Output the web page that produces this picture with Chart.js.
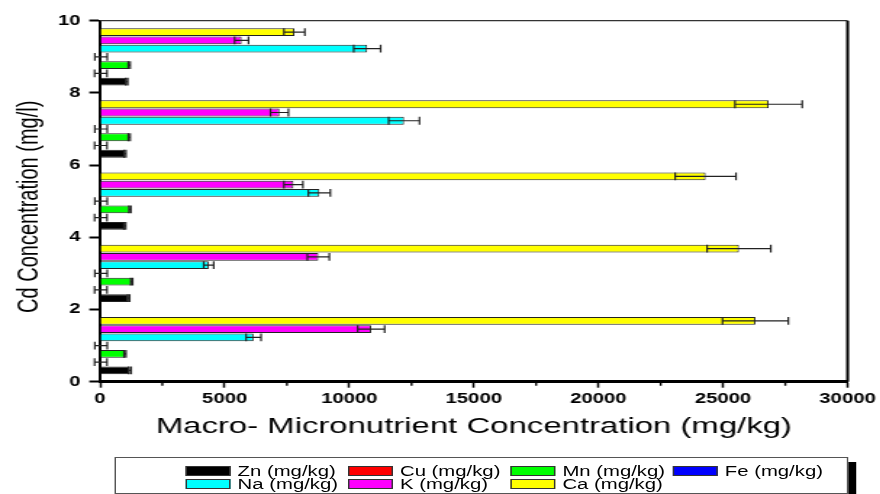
<!DOCTYPE html>
<html>
<head>
<meta charset="utf-8">
<script src="https://cdn.jsdelivr.net/npm/chart.js@4.4.1/dist/chart.umd.min.js"></script>
<style>
  html, body { margin: 0; padding: 0; overflow: hidden; background: #fff; }
  /* the original figure is stretched sideways, so the whole drawing is too */
  #wrap { position: relative; width: 607px; height: 494px; transform: scaleX(1.45); transform-origin: 0 0; }
  #legend {
    position: absolute; left: 78.6px; top: 457px; width: 506px; height: 37px;
    box-sizing: border-box; border: 1px solid #555; background: #fff;
    box-shadow: 5.5px 5px 0 #000;
    padding: 7px 0 0 48px;
    display: grid; grid-template-columns: repeat(4, 112px); grid-auto-rows: 12.7px;
    font-family: "Liberation Sans", Arial, sans-serif; font-size: 14px; color: #000;
  }
  .item { display: flex; align-items: center; white-space: nowrap; line-height: 12.7px; }
  .swatch { width: 31.7px; height: 10px; box-sizing: border-box; border: 1px solid #333; margin-right: 4.6px; }
</style>
</head>
<body>
<div id="wrap">
  <canvas id="myChart"></canvas>
  <div id="legend"></div>
</div>
<script>
// Cd levels where each group of bars sits, and axis ticks
const cdLevels = [1, 3, 5, 7, 9];
const yTicks = [0, 2, 4, 6, 8, 10];
const xTicks = [0, 5000, 10000, 15000, 20000, 25000, 30000];
const xMinorTicks = [2500, 7500, 12500, 17500, 22500, 27500];

// ---- values (mg/kg) and their error bars, one entry per Cd level ----
const znValues = [1200, 1150, 990, 1000, 1070];
const znErrors = [50, 40, 40, 40, 40];
const cuValues = [30, 30, 30, 30, 30];
const cuErrors = [250, 250, 250, 250, 250];
const mnValues = [1000, 1270, 1200, 1170, 1170];
const mnErrors = [40, 40, 40, 40, 40];
const feValues = [40, 40, 40, 40, 40];
const feErrors = [250, 250, 250, 250, 250];
const naValues = [6160, 4360, 8800, 12200, 10720];
const naErrors = [300, 200, 440, 620, 540];
const kValues = [10880, 8760, 7760, 7200, 5680];
const kErrors = [540, 440, 380, 360, 280];
const caValues = [26300, 25640, 24300, 26830, 7800];
const caErrors = [1320, 1280, 1220, 1350, 420];

const legendNames = ["Zn (mg/kg)", "Cu (mg/kg)", "Mn (mg/kg)", "Fe (mg/kg)", "Na (mg/kg)", "K (mg/kg)", "Ca (mg/kg)"];
const legendColors = ["#000000", "#ff0000", "#00ff00", "#0000ff", "#00ffff", "#ff00ff", "#ffff00"];

const fontFamily = "'Liberation Sans', Arial, sans-serif";

const makeSet = (label, values, errors, color) => ({
  label: label,
  data: values.map((v, i) => ({ x: v, y: cdLevels[i] })),
  errors: errors,
  backgroundColor: color,
  borderColor: "#222",
  borderWidth: 1,
  categoryPercentage: 0.8,
  barPercentage: 0.95,
});

// top of each group first: Ca ... Zn
const datasets = [
  makeSet("Ca (mg/kg)", caValues, caErrors, legendColors[6]),
  makeSet("K (mg/kg)", kValues, kErrors, legendColors[5]),
  makeSet("Na (mg/kg)", naValues, naErrors, legendColors[4]),
  makeSet("Fe (mg/kg)", feValues, feErrors, legendColors[3]),
  makeSet("Mn (mg/kg)", mnValues, mnErrors, legendColors[2]),
  makeSet("Cu (mg/kg)", cuValues, cuErrors, legendColors[1]),
  makeSet("Zn (mg/kg)", znValues, znErrors, legendColors[0]),
];

//---- error bars drawn at each bar end ----
const errorBars = {
  id: "errorBars",
  afterDatasetsDraw(chart) {
    const ctx = chart.ctx;
    const xScale = chart.scales.x;
    ctx.save();
    ctx.strokeStyle = "#222";
    ctx.lineWidth = 1.2;
    chart.data.datasets.forEach((ds, di) => {
      chart.getDatasetMeta(di).data.forEach((bar, i) => {
        const v = ds.data[i].x;
        const e = ds.errors[i];
        const x1 = xScale.getPixelForValue(v - e);
        const x2 = xScale.getPixelForValue(v + e);
        const y = bar.y;
        const h = bar.height / 2;
        ctx.beginPath();
        ctx.moveTo(x1, y); ctx.lineTo(x2, y);
        ctx.moveTo(x1, y - h); ctx.lineTo(x1, y + h);
        ctx.moveTo(x2, y - h); ctx.lineTo(x2, y + h);
        ctx.stroke();
      });
    });
    ctx.restore();
  },
};

//---- top and right frame lines, minor ticks on the x axis ----
const frame = {
  id: "frame",
  afterDraw(chart) {
    const { ctx, chartArea: a } = chart;
    const xScale = chart.scales.x;
    ctx.save();
    ctx.strokeStyle = "#333";
    ctx.lineWidth = 1.3;
    ctx.beginPath();
    ctx.moveTo(a.left, a.top); ctx.lineTo(a.right, a.top);
    ctx.stroke();
    ctx.strokeStyle = "#000";
    ctx.lineWidth = 2;
    ctx.beginPath();
    ctx.moveTo(a.right, a.top); ctx.lineTo(a.right, a.bottom);
    ctx.stroke();
    ctx.lineWidth = 1.4;
    ctx.beginPath();
    xMinorTicks.forEach((v) => {
      const px = xScale.getPixelForValue(v);
      ctx.moveTo(px, a.bottom); ctx.lineTo(px, a.bottom + 4);
    });
    ctx.stroke();
    ctx.restore();
  },
};

const tickFont = { family: fontFamily, size: 14, weight: "bold" };

new Chart(document.querySelector("#myChart"), {
  type: "bar",
  data: { datasets: datasets },
  plugins: [errorBars, frame],
  options: {
    indexAxis: "y",
    responsive: true,
    maintainAspectRatio: false,
    animation: false,
    layout: { padding: { top: 20.7, right: 20, bottom: 0, left: 0 } },
    plugins: { legend: { display: false }, tooltip: { enabled: false } },
    scales: {
      x: {
        type: "linear",
        min: 0,
        max: 30000,
        afterBuildTicks: (s) => { s.ticks = xTicks.map((v) => ({ value: v })); },
        afterFit: (s) => { s.height = 112.3; },
        grid: { drawOnChartArea: false, tickLength: 6, tickWidth: 1.5, tickColor: "#000" },
        border: { width: 3, color: "#000" },
        ticks: { padding: 3, color: "#000", font: tickFont, maxRotation: 0, autoSkip: false, callback: (v) => String(v) },
        title: {
          display: true,
          text: "Macro- Micronutrient Concentration (mg/kg)",
          color: "#000",
          font: { family: fontFamily, size: 22.7 },
          padding: { top: 0, bottom: 54 },
        },
      },
      y: {
        type: "linear",
        min: 0,
        max: 10,
        offset: false,
        afterBuildTicks: (s) => { s.ticks = yTicks.map((v) => ({ value: v })); },
        afterFit: (s) => { s.width = 69; },
        grid: { offset: false, drawOnChartArea: false, tickLength: 7.4, tickWidth: 2, tickColor: "#000" },
        border: { width: 2, color: "#000" },
        ticks: { padding: 6, color: "#000", font: tickFont, callback: (v) => String(v) },
        title: {
          display: true,
          text: "Cd Concentration (mg/l)  ",
          color: "#000",
          font: { family: fontFamily, size: 20 },
          padding: { top: 8.5, bottom: 0 },
        },
      },
    },
  },
});

// legend box under the chart, 4 columns like the original
const legend = document.querySelector("#legend");
legendNames.forEach((name, i) => {
  const item = document.createElement("div");
  item.className = "item";
  const sw = document.createElement("span");
  sw.className = "swatch";
  sw.style.background = legendColors[i];
  item.appendChild(sw);
  item.appendChild(document.createTextNode(name));
  legend.appendChild(item);
});
</script>
</body>
</html>
